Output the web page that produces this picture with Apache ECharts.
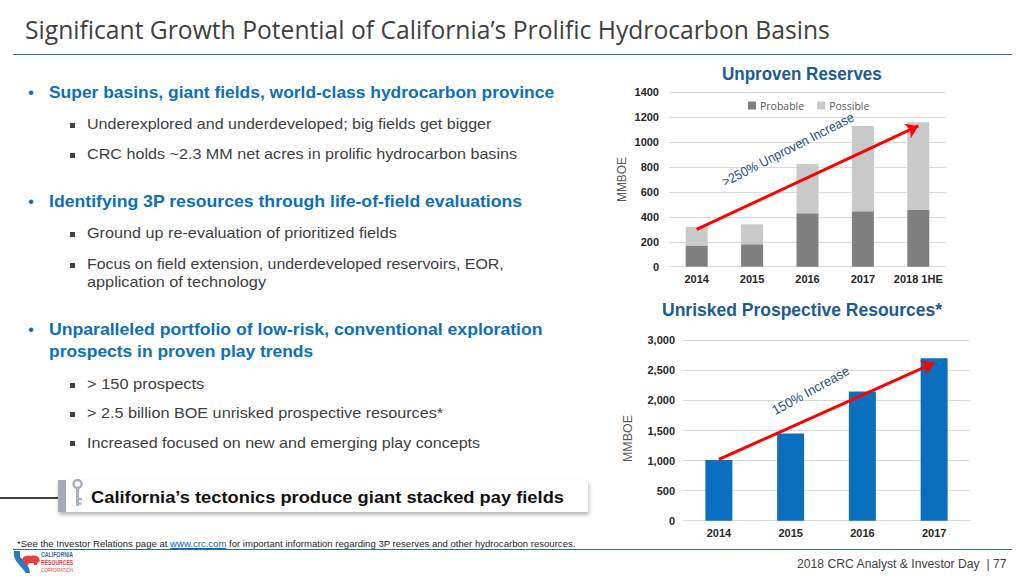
<!DOCTYPE html>
<html><head><meta charset="utf-8">
<script src="https://cdn.jsdelivr.net/npm/echarts@6/dist/echarts.min.js"></script>
<style>
html,body{margin:0;padding:0;width:1024px;height:576px;overflow:hidden;background:#fff;}
#chart{position:absolute;left:0;top:0;width:1024px;height:576px;}
.t{position:absolute;white-space:nowrap;transform-origin:0 50%;font-family:"Liberation Sans",Arial,sans-serif;}
.b1{font-size:17px;line-height:20px;font-weight:bold;color:#0b6fbc;}
.b2{font-size:15px;line-height:18px;color:#404040;}
.dot{position:absolute;font-family:"Liberation Sans",Arial,sans-serif;font-size:17px;line-height:20px;color:#0b6fbc;}
.sq{position:absolute;width:5px;height:5px;background:#404040;}
.ct{font-size:18.5px;line-height:22px;font-weight:bold;color:#1c5b93;}
.ann{font-size:13.5px;line-height:16px;color:#1f4e79;}
.yname{font-size:13px;line-height:15px;color:#595959;}
.hl{position:absolute;}
</style></head><body>
<div id="chart"></div>

<div class="t" style="left:24.9px;top:13.5px;font-family:'Open Sans',sans-serif;font-size:25px;line-height:30px;color:#404040;" data-w="805">Significant Growth Potential of California’s Prolific Hydrocarbon Basins</div>
<div class="hl" style="left:13.4px;top:53.5px;width:998.3px;height:1.6px;background:#2a7393;"></div>

<div class="dot" style="left:28px;top:83.3px;">•</div>
<div class="t b1" style="left:48.6px;top:83.3px;" data-w="505">Super basins, giant fields, world-class hydrocarbon province</div>
<div class="sq" style="left:69.5px;top:123px;"></div>
<div class="t b2" style="left:86.8px;top:115.3px;" data-w="404.6">Underexplored and underdeveloped; big fields get bigger</div>
<div class="sq" style="left:69.5px;top:153px;"></div>
<div class="t b2" style="left:86.8px;top:145.3px;" data-w="430.3">CRC holds ~2.3 MM net acres in prolific hydrocarbon basins</div>

<div class="dot" style="left:28px;top:191.7px;">•</div>
<div class="t b1" style="left:48.6px;top:191.7px;" data-w="473.2">Identifying 3P resources through life-of-field evaluations</div>
<div class="sq" style="left:69.5px;top:232px;"></div>
<div class="t b2" style="left:86.8px;top:224.3px;" data-w="310">Ground up re-evaluation of prioritized fields</div>
<div class="sq" style="left:69.5px;top:262.7px;"></div>
<div class="t b2" style="left:86.8px;top:255px;" data-w="417.1">Focus on field extension, underdeveloped reservoirs, EOR,</div>
<div class="t b2" style="left:86.8px;top:272.7px;" data-w="178.9">application of technology</div>

<div class="dot" style="left:28px;top:320px;">•</div>
<div class="t b1" style="left:48.6px;top:320px;" data-w="493.5">Unparalleled portfolio of low-risk, conventional exploration</div>
<div class="t b1" style="left:48.6px;top:341.7px;" data-w="264.3">prospects in proven play trends</div>
<div class="sq" style="left:69.5px;top:382.7px;"></div>
<div class="t b2" style="left:86.8px;top:375px;" data-w="117.1">&gt; 150 prospects</div>
<div class="sq" style="left:69.5px;top:412px;"></div>
<div class="t b2" style="left:86.8px;top:404.3px;" data-w="356.4">&gt; 2.5 billion BOE unrisked prospective resources*</div>
<div class="sq" style="left:69.5px;top:441.4px;"></div>
<div class="t b2" style="left:86.8px;top:433.7px;" data-w="393.2">Increased focused on new and emerging play concepts</div>

<div class="hl" style="left:0;top:496.7px;width:58px;height:2px;background:#404040;"></div>
<div class="hl" style="left:58px;top:480px;width:530px;height:32px;background:#fff;box-shadow:1px 3px 4px rgba(0,0,0,0.28);"></div>
<div class="hl" style="left:58px;top:480px;width:7.5px;height:32px;background:#a5abb8;"></div>
<svg class="hl" style="left:70px;top:478px;" width="16" height="32" viewBox="0 0 16 32">
  <circle cx="7.5" cy="6" r="4" fill="none" stroke="#a9afbd" stroke-width="2.4"/>
  <rect x="6" y="10" width="3" height="18" fill="#a9afbd"/>
  <rect x="9" y="20" width="3" height="2.2" fill="#a9afbd"/>
  <rect x="9" y="24.5" width="2.5" height="2.2" fill="#a9afbd"/>
</svg>
<div class="t" style="left:91.1px;top:486.7px;font-size:17px;line-height:22px;font-weight:bold;color:#111;" data-w="473.4">California’s tectonics produce giant stacked pay fields</div>

<div class="t" style="left:17.2px;top:538.8px;font-size:9px;line-height:11px;color:#262626;" data-w="558.8">*See the Investor Relations page at <span style="color:#0563c1;text-decoration:underline;">www.crc.com</span> for important information regarding 3P reserves and other hydrocarbon resources.</div>
<div class="hl" style="left:13.4px;top:549px;width:998.3px;height:1.2px;background:#2a6f96;"></div>

<svg class="hl" style="left:12px;top:550px;" width="30" height="25" viewBox="0 0 30 25">
  <path d="M2,1 L8,1 L8,7 L14,13 L17,18 L18,23 L14,23 L9,17 L4,11 L2,6 Z" fill="#2b79c2"/>
  <path d="M10,9 C11,6 15,5 19,6 C23,5 26,6 27,8 L28,11 L26,12 L25,15 L22,15 L22,13 L17,13 L16,15 L13,15 L13,12 C11,12 10,11 10,9 Z" fill="#e8403c"/>
</svg>
<div class="t" style="left:40.7px;top:551.2px;font-size:7px;line-height:7px;font-weight:bold;color:#2b6cb3;" data-w="32">CALIFORNIA</div>
<div class="t" style="left:40.7px;top:558.5px;font-size:7px;line-height:7px;font-weight:bold;color:#e8403c;" data-w="32">RESOURCES</div>
<div class="t" style="left:40.7px;top:566.5px;font-size:6px;line-height:6px;color:#e8403c;" data-w="32">CORPORATION</div>

<div class="t" style="left:796.7px;top:557px;font-size:12px;line-height:14px;color:#404040;" data-w="210">2018 CRC Analyst &amp; Investor Day&nbsp; |&nbsp;77</div>

<div class="t ct" data-cx="801.7" data-cy="74" data-w="160">Unproven Reserves</div>
<div class="t ct" data-cx="801.7" data-cy="310" data-w="280">Unrisked Prospective Resources*</div>
<div class="t ann" data-cx="788" data-cy="150" data-w="146" data-rot="27">&gt;250% Unproven Increase</div>
<div class="t ann" data-cx="810.5" data-cy="391" data-w="86" data-rot="29">150% Increase</div>
<div class="t yname" data-cx="621" data-cy="179.6" data-w="45" data-rot="90">MMBOE</div>
<div class="t yname" data-cx="627.5" data-cy="438.5" data-w="47" data-rot="90">MMBOE</div>

<script>
// ---- data ----
const topCategories = ['2014', '2015', '2016', '2017', '2018 1HE'];
const probable = [170, 180, 430, 445, 455];
const possible = [150, 160, 395, 685, 705];
const topTicks = [0, 200, 400, 600, 800, 1000, 1200, 1400];
const topArrow = [['2014', 300], ['2018 1HE', 1130]];

const bottomCategories = ['2014', '2015', '2016', '2017'];
const prospective = [1010, 1450, 2150, 2700];
const bottomTicks = [0, 500, 1000, 1500, 2000, 2500, 3000];
const bottomArrow = [['2014', 1020], ['2017', 2625]];

// ---- fit text ----
document.querySelectorAll('[data-w]').forEach(function (el) {
  const w0 = el.offsetWidth, h0 = el.offsetHeight;
  const s = parseFloat(el.dataset.w) / w0;
  const rot = el.dataset.rot ? parseFloat(el.dataset.rot) : 0;
  if (el.dataset.cx) {
    el.style.left = (parseFloat(el.dataset.cx) - w0 / 2) + 'px';
    el.style.top = (parseFloat(el.dataset.cy) - h0 / 2) + 'px';
    el.style.transformOrigin = '50% 50%';
    el.style.transform = 'rotate(' + (-rot) + 'deg) scaleX(' + s + ')';
  } else {
    el.style.transform = 'scaleX(' + s + ')';
  }
});

// ---- chart ----
const chart = echarts.init(document.getElementById('chart'), null, { renderer: 'svg' });
const labelFont = { fontFamily: 'Liberation Sans', fontWeight: 'bold', fontSize: 11, color: '#262626' };
function arrowLine(arr, cats) {
  return [[
    { coord: [cats.indexOf(arr[0][0]), arr[0][1]] },
    { coord: [cats.indexOf(arr[1][0]), arr[1][1]] }
  ]];
}
const option = {
  animation: false,
  grid: [
    { left: 669, width: 277, top: 92.3, height: 174.4 },
    { left: 683, width: 287, top: 340.3, height: 180.4 }
  ],
  legend: {
    data: ['Probable', 'Possible'],
    left: 743, top: 95,
    icon: 'rect', itemWidth: 8, itemHeight: 8, itemGap: 13,
    textStyle: { fontFamily: 'Open Sans', fontSize: 10.5, color: '#595959', padding: [0, 0, 0, -1] },
    selectedMode: false
  },
  xAxis: [
    { type: 'category', gridIndex: 0, data: topCategories,
      axisLine: { lineStyle: { color: '#d9d9d9' } }, axisTick: { show: false },
      axisLabel: Object.assign({ margin: 7, interval: 0 }, labelFont) },
    { type: 'category', gridIndex: 1, data: bottomCategories,
      axisLine: { lineStyle: { color: '#d9d9d9' } }, axisTick: { show: false },
      axisLabel: Object.assign({ margin: 7, interval: 0 }, labelFont) }
  ],
  yAxis: [
    { type: 'value', gridIndex: 0, min: topTicks[0], max: topTicks[topTicks.length - 1],
      interval: topTicks[1] - topTicks[0],
      axisLine: { show: false }, axisTick: { show: false },
      splitLine: { lineStyle: { color: '#d9d9d9' } },
      axisLabel: Object.assign({ margin: 10, formatter: function (v) { return String(v); } }, labelFont) },
    { type: 'value', gridIndex: 1, min: bottomTicks[0], max: bottomTicks[bottomTicks.length - 1],
      interval: bottomTicks[1] - bottomTicks[0],
      axisLine: { show: false }, axisTick: { show: false },
      splitLine: { lineStyle: { color: '#d9d9d9' } },
      axisLabel: Object.assign({ margin: 8, formatter: function (v) { return v.toLocaleString('en-US'); } }, labelFont) }
  ],
  series: [
    { name: 'Probable', type: 'bar', stack: 'u', xAxisIndex: 0, yAxisIndex: 0, data: probable,
      barWidth: 22, itemStyle: { color: '#7f7f7f' }, silent: true },
    { name: 'Possible', type: 'bar', stack: 'u', xAxisIndex: 0, yAxisIndex: 0, data: possible,
      barWidth: 22, itemStyle: { color: '#c9c9c9' }, silent: true },
    { name: 'Unrisked Prospective Resources', type: 'bar', xAxisIndex: 1, yAxisIndex: 1, data: prospective,
      barWidth: 27, itemStyle: { color: '#0a6fbf' }, silent: true },
    { name: 'arrowTop', type: 'line', xAxisIndex: 0, yAxisIndex: 0, data: [], silent: true,
      markLine: { silent: true, symbol: ['none', 'arrow'], symbolSize: 12, label: { show: false },
        lineStyle: { color: '#ff0000', width: 3, type: 'solid' }, emphasis: { disabled: true },
        data: arrowLine(topArrow, topCategories) } },
    { name: 'arrowBottom', type: 'line', xAxisIndex: 1, yAxisIndex: 1, data: [], silent: true,
      markLine: { silent: true, symbol: ['none', 'arrow'], symbolSize: 12, label: { show: false },
        lineStyle: { color: '#ff0000', width: 3, type: 'solid' }, emphasis: { disabled: true },
        data: arrowLine(bottomArrow, bottomCategories) } }
  ]
};
chart.setOption(option);
</script>
</body></html>
